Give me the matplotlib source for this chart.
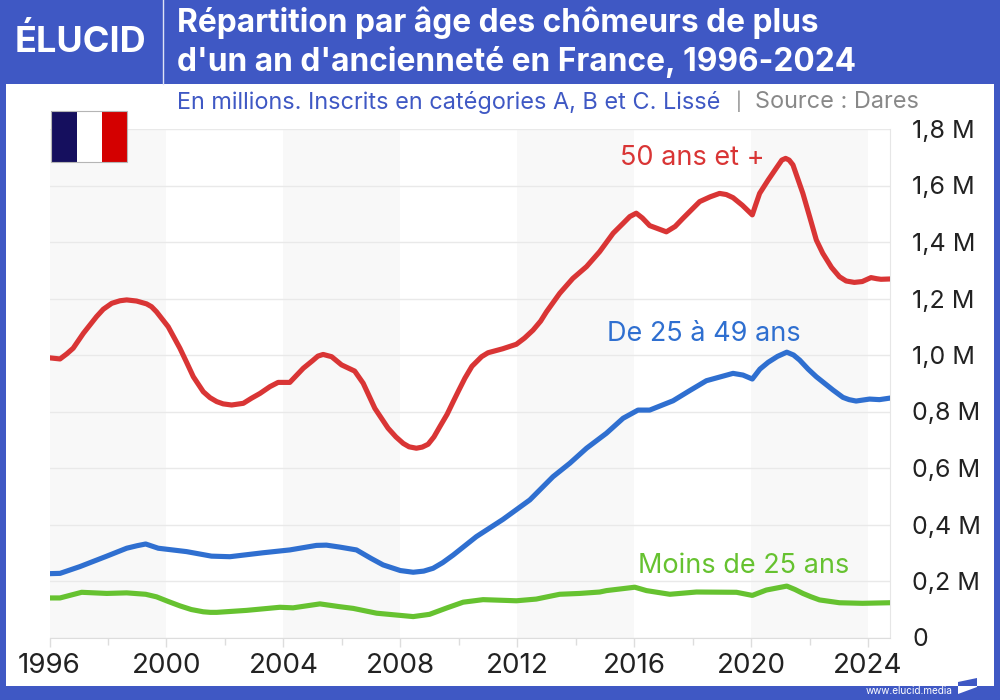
import matplotlib.pyplot as plt
from matplotlib.patches import Rectangle, Polygon

plt.rcParams["font.family"] = ["Inter", "DejaVu Sans"]

# Data (millions)

years_50 = [1996.0, 1996.36, 1996.59, 1996.81, 1997.16, 1997.61, 1997.84, 1998.13, 1998.41, 1998.64,
            1998.98, 1999.32, 1999.49, 1999.66, 2000.06, 2000.46, 2000.69, 2000.92, 2001.26, 2001.49,
            2001.72, 2001.94, 2002.23, 2002.63, 2002.91, 2003.2, 2003.54, 2003.82, 2004.22, 2004.68,
            2005.0, 2005.18, 2005.36, 2005.65, 2005.99, 2006.44, 2006.73, 2007.13, 2007.58, 2007.85,
            2008.1, 2008.3, 2008.55, 2008.75, 2008.95, 2009.15, 2009.35, 2009.6, 2009.81, 2010.0,
            2010.21, 2010.45, 2010.78, 2011.0, 2011.5, 2011.97, 2012.25, 2012.54, 2012.8, 2013.0,
            2013.45, 2013.9, 2014.37, 2014.82, 2015.28, 2015.62, 2015.85, 2016.07, 2016.28, 2016.53,
            2017.1, 2017.4, 2017.67, 2018.24, 2018.6, 2018.92, 2019.15, 2019.38, 2019.7, 2020.04,
            2020.15, 2020.29, 2020.58, 2020.85, 2021.05, 2021.18, 2021.3, 2021.43, 2021.77, 2022.0,
            2022.23, 2022.45, 2022.75, 2023.02, 2023.25, 2023.53, 2023.8, 2024.1, 2024.3, 2024.44, 2024.72]
values_50 = [0.990, 0.986, 1.004, 1.024, 1.077, 1.136, 1.162, 1.183, 1.192, 1.195,
             1.191, 1.181, 1.171, 1.153, 1.100, 1.024, 0.974, 0.923, 0.870, 0.849,
             0.835, 0.827, 0.823, 0.829, 0.847, 0.864, 0.888, 0.903, 0.903, 0.953,
             0.980, 0.996, 1.002, 0.994, 0.965, 0.943, 0.900, 0.811, 0.741, 0.710,
             0.687, 0.675, 0.670, 0.674, 0.684, 0.710, 0.746, 0.790, 0.835, 0.875,
             0.918, 0.960, 0.994, 1.008, 1.022, 1.038, 1.060, 1.088, 1.120, 1.153,
             1.218, 1.271, 1.313, 1.366, 1.431, 1.466, 1.490, 1.502, 1.485, 1.458,
             1.436, 1.455, 1.484, 1.543, 1.560, 1.572, 1.568, 1.557, 1.530, 1.496,
             1.530, 1.572, 1.619, 1.660, 1.690, 1.696, 1.690, 1.673, 1.572, 1.490,
             1.407, 1.360, 1.310, 1.277, 1.262, 1.257, 1.260, 1.274, 1.270, 1.268, 1.269]

years_25_49 = [1996.0, 1996.36, 1997.04, 1997.96, 1998.64, 1999.0, 1999.29, 1999.72, 2000.69, 2001.54,
               2002.17, 2003.31, 2004.22, 2005.13, 2005.47, 2005.93, 2006.5, 2007.0, 2007.41, 2008.0,
               2008.44, 2008.8, 2009.12, 2009.45, 2009.81, 2010.6, 2011.51, 2012.43, 2013.22, 2013.8,
               2014.37, 2015.05, 2015.62, 2016.13, 2016.53, 2017.33, 2017.9, 2018.47, 2019.38, 2019.72,
               2020.04, 2020.3, 2020.58, 2020.9, 2021.22, 2021.45, 2021.66, 2021.95, 2022.23, 2022.8,
               2023.14, 2023.35, 2023.59, 2024.05, 2024.39, 2024.72]
values_25_49 = [0.226, 0.227, 0.251, 0.288, 0.316, 0.325, 0.331, 0.316, 0.304, 0.288,
                0.286, 0.300, 0.310, 0.326, 0.327, 0.320, 0.310, 0.280, 0.257, 0.237,
                0.231, 0.235, 0.245, 0.265, 0.292, 0.357, 0.418, 0.487, 0.569, 0.617,
                0.670, 0.723, 0.776, 0.805, 0.805, 0.838, 0.874, 0.909, 0.935, 0.929,
                0.915, 0.950, 0.974, 0.995, 1.010, 1.000, 0.982, 0.950, 0.923, 0.876,
                0.850, 0.842, 0.837, 0.844, 0.842, 0.847]

years_u25 = [1996.0, 1996.36, 1997.1, 1997.96, 1998.64, 1999.29, 1999.66, 2000.05, 2000.46, 2000.85,
             2001.26, 2001.5, 2001.72, 2002.74, 2003.88, 2004.33, 2005.25, 2005.93, 2006.39, 2007.19,
             2008.44, 2009.0, 2009.6, 2010.15, 2010.83, 2011.97, 2012.65, 2013.45, 2014.14, 2014.82,
             2015.05, 2016.02, 2016.42, 2017.22, 2018.13, 2019.5, 2020.04, 2020.52, 2021.22, 2021.5,
             2021.77, 2022.05, 2022.34, 2023.02, 2023.81, 2024.72]
values_u25 = [0.140, 0.140, 0.160, 0.156, 0.158, 0.153, 0.144, 0.128, 0.112, 0.099,
              0.091, 0.089, 0.089, 0.096, 0.107, 0.105, 0.119, 0.109, 0.103, 0.086,
              0.074, 0.082, 0.105, 0.125, 0.134, 0.130, 0.136, 0.153, 0.156, 0.161,
              0.166, 0.178, 0.166, 0.153, 0.161, 0.160, 0.149, 0.168, 0.182, 0.170,
              0.156, 0.144, 0.133, 0.123, 0.121, 0.123]

y_ticks = [0, 0.2, 0.4, 0.6, 0.8, 1.0, 1.2, 1.4, 1.6, 1.8]
y_labels = ["0", "0,2 M", "0,4 M", "0,6 M", "0,8 M", "1,0 M", "1,2 M", "1,4 M", "1,6 M", "1,8 M"]
x_major = [1996, 2000, 2004, 2008, 2012, 2016, 2020, 2024]
x_minor = [1998, 2002, 2006, 2010, 2014, 2018, 2022]

BLUE_BG = "#3f58c4"
RED = "#d93535"
BLUE = "#2f6fd0"
GREEN = "#66c230"
W, H = 1000, 700


def fx(x):
    return x / W


def fy(y):
    return 1 - y / H


def px_text(x, y, s, **kw):
    kw.setdefault("va", "center")
    fig.text(fx(x), fy(y), s, zorder=5, **kw)


fig = plt.figure(figsize=(10, 7), dpi=100, facecolor=BLUE_BG)

# White panel and header separator
fig.add_artist(Rectangle((fx(6), fy(686)), 988 / W, 602 / H, transform=fig.transFigure,
                         facecolor="white", edgecolor="none", zorder=-1))
fig.add_artist(plt.Line2D([fx(162.5), fx(162.5)], [fy(0), fy(84)], color="#dfe3f5", lw=1))

# Chart
ax = fig.add_axes([fx(49.5), fy(637.5), (890 - 49.5) / W, (637.5 - 129) / H])
ax.set_zorder(1)
ax.set_facecolor("white")
for start in range(1996, 2024, 8):
    ax.axvspan(start, start + 4, color="#f8f8f8", lw=0, zorder=0)
ax.set_xlim(1996, 2024.75)
ax.set_ylim(0, 1.8)
ax.grid(axis="y", color="#e9e9e9", lw=1, zorder=1)
ax.set_axisbelow(True)

ax.plot(years_50, values_50, color=RED, lw=3.7, solid_joinstyle="round", zorder=3)
ax.plot(years_25_49, values_25_49, color=BLUE, lw=3.7, solid_joinstyle="round", zorder=3)
ax.plot(years_u25, values_u25, color=GREEN, lw=3.7, solid_joinstyle="round", zorder=3)

for side in ["top", "left"]:
    ax.spines[side].set_visible(False)
ax.spines["bottom"].set_color("#dddddd")
ax.spines["right"].set_color("#e6e6e6")

ax.set_xticks(x_major)
ax.set_xticks(x_minor, minor=True)
ax.set_xticklabels([str(y) for y in x_major], fontsize=20, color="#222222")
ax.tick_params(axis="x", which="major", length=6.5, width=1, color="#dddddd", pad=5)
ax.tick_params(axis="x", which="minor", length=5, width=1, color="#dddddd")

ax.yaxis.tick_right()
ax.set_yticks(y_ticks)
ax.set_yticklabels(y_labels, fontsize=18, color="#222222")
ax.tick_params(axis="y", length=0, pad=16)

# Header
px_text(15, 42, "ÉLUCID", color="white", fontsize=26, fontweight="bold")
px_text(177, 23, "Répartition par âge des chômeurs de plus", color="white", fontsize=22.8, fontweight="bold")
px_text(177, 62, "d'un an d'ancienneté en France, 1996-2024", color="white", fontsize=22.8, fontweight="bold")

px_text(177, 102, "En millions. Inscrits en catégories A, B et C. Lissé", color="#3f58c4", fontsize=16.9)
px_text(736, 101, "|", color="#888888", fontsize=13)
px_text(755, 102, "Source : Dares", color="#888888", fontsize=16.9)

# Series labels
px_text(620, 158, "50 ans et +", color=RED, fontsize=19.5)
px_text(607, 334, "De 25 à 49 ans", color=BLUE, fontsize=19.5)
px_text(638, 566, "Moins de 25 ans", color=GREEN, fontsize=19.5)

# Flag
flag_parts = [(51, "#150f5e"), (76.5, "white"), (101.5, "#d40000")]
for left, colour in flag_parts:
    fig.add_artist(Rectangle((fx(left), fy(162)), 25.5 / W, 51 / H, transform=fig.transFigure,
                             facecolor=colour, edgecolor="none", zorder=5))
fig.add_artist(Rectangle((fx(51), fy(162)), 76 / W, 51 / H, transform=fig.transFigure,
                         facecolor="none", edgecolor="#b5b5b5", lw=0.8, zorder=6))

# Footer
px_text(866, 691, "www.elucid.media", color="white", fontsize=7.2)
fig.add_artist(Polygon([(fx(958), fy(682)), (fx(977), fy(678)), (fx(977), fy(686)), (fx(958), fy(686))],
                       transform=fig.transFigure, facecolor=BLUE_BG, edgecolor="none", zorder=6))
fig.add_artist(Polygon([(fx(958), fy(686)), (fx(977), fy(686)), (fx(977), fy(687)), (fx(958), fy(694))],
                       transform=fig.transFigure, facecolor="white", edgecolor="none", zorder=6))

fig.savefig("out.png", dpi=100, facecolor=fig.get_facecolor())
